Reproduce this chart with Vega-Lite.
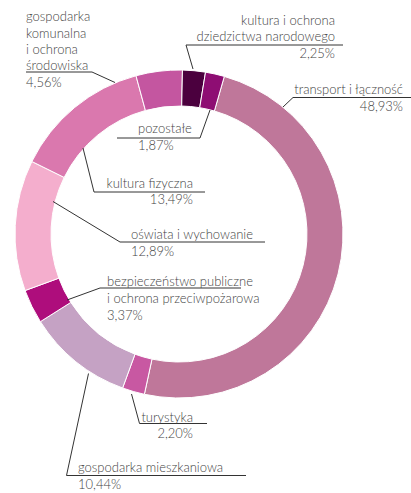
{
  "$schema": "https://vega.github.io/schema/vega-lite/v6.json",
  "width": 358,
  "height": 468,
  "autosize": {"type": "none"},
  "padding": {"left": 0, "top": 0, "right": 53, "bottom": 25},
  "background": "white",
  "config": {"view": {"stroke": null}},
  "datasets": {
    "segments": [
      {"category": "transport i łączność", "value": 48.93, "order": 1},
      {"category": "turystyka", "value": 2.20, "order": 2},
      {"category": "gospodarka mieszkaniowa", "value": 10.44, "order": 3},
      {"category": "bezpieczeństwo publiczne i ochrona przeciwpożarowa", "value": 3.37, "order": 4},
      {"category": "oświata i wychowanie", "value": 12.89, "order": 5},
      {"category": "kultura fizyczna", "value": 13.49, "order": 6},
      {"category": "gospodarka komunalna i ochrona środowiska", "value": 4.56, "order": 7},
      {"category": "kultura i ochrona dziedzictwa narodowego", "value": 2.25, "order": 8},
      {"category": "pozostałe", "value": 1.87, "order": 9}
    ],
    "labels": [
      {"text": "gospodarka", "x": 26, "y": 21, "align": "left"},
      {"text": "komunalna", "x": 26, "y": 37.5, "align": "left"},
      {"text": "i ochrona", "x": 26, "y": 53.5, "align": "left"},
      {"text": "środowiska", "x": 26, "y": 70, "align": "left"},
      {"text": "4,56%", "x": 26, "y": 86.5, "align": "left"},
      {"text": "kultura i ochrona", "x": 335, "y": 25, "align": "right"},
      {"text": "dziedzictwa narodowego", "x": 335, "y": 41, "align": "right"},
      {"text": "2,25%", "x": 335, "y": 57.5, "align": "right"},
      {"text": "transport i łączność", "x": 403, "y": 94, "align": "right"},
      {"text": "48,93%", "x": 403, "y": 110.5, "align": "right"},
      {"text": "pozostałe", "x": 138, "y": 133, "align": "left"},
      {"text": "1,87%", "x": 138, "y": 150, "align": "left"},
      {"text": "kultura fizyczna", "x": 193, "y": 188, "align": "right"},
      {"text": "13,49%", "x": 193, "y": 204, "align": "right"},
      {"text": "oświata i wychowanie", "x": 131, "y": 239, "align": "left"},
      {"text": "12,89%", "x": 131, "y": 256, "align": "left"},
      {"text": "bezpieczeństwo publiczne", "x": 107, "y": 286, "align": "left"},
      {"text": "i ochrona przeciwpożarowa", "x": 107, "y": 303, "align": "left"},
      {"text": "3,37%", "x": 107, "y": 319.5, "align": "left"},
      {"text": "turystyka", "x": 193, "y": 421.5, "align": "right"},
      {"text": "2,20%", "x": 193, "y": 438, "align": "right"},
      {"text": "gospodarka mieszkaniowa", "x": 78, "y": 472, "align": "left"},
      {"text": "10,44%", "x": 78, "y": 488.5, "align": "left"}
    ],
    "leaders": [
      {"id": "kom", "p": 1, "x": 26, "y": 72},
      {"id": "kom", "p": 2, "x": 92, "y": 72},
      {"id": "kom", "p": 3, "x": 115, "y": 82.5},
      {"id": "dzi", "p": 1, "x": 343, "y": 45},
      {"id": "dzi", "p": 2, "x": 186, "y": 45},
      {"id": "dzi", "p": 3, "x": 193, "y": 69},
      {"id": "tra", "p": 1, "x": 411, "y": 97.5},
      {"id": "tra", "p": 2, "x": 293, "y": 97.5},
      {"id": "tra", "p": 3, "x": 283, "y": 107},
      {"id": "poz", "p": 1, "x": 117, "y": 138},
      {"id": "poz", "p": 2, "x": 200, "y": 138},
      {"id": "poz", "p": 3, "x": 210, "y": 110},
      {"id": "fiz", "p": 1, "x": 205, "y": 192},
      {"id": "fiz", "p": 2, "x": 94, "y": 192},
      {"id": "fiz", "p": 3, "x": 83, "y": 148},
      {"id": "osw", "p": 1, "x": 265, "y": 242},
      {"id": "osw", "p": 2, "x": 120, "y": 242},
      {"id": "osw", "p": 3, "x": 53, "y": 201.5},
      {"id": "bez", "p": 1, "x": 241, "y": 288},
      {"id": "bez", "p": 2, "x": 100, "y": 288},
      {"id": "bez", "p": 3, "x": 67, "y": 300},
      {"id": "tur", "p": 1, "x": 207, "y": 423.5},
      {"id": "tur", "p": 2, "x": 139.5, "y": 423.5},
      {"id": "tur", "p": 3, "x": 131.5, "y": 394},
      {"id": "mie", "p": 1, "x": 246, "y": 475.5},
      {"id": "mie", "p": 2, "x": 66.5, "y": 475.5},
      {"id": "mie", "p": 3, "x": 88.5, "y": 373.5}
    ]
  },
  "layer": [
    {
      "data": {"name": "segments"},
      "mark": {"type": "arc", "innerRadius": 128, "outerRadius": 164, "stroke": "white", "strokeWidth": 1},
      "encoding": {
        "theta": {"field": "value", "type": "quantitative", "stack": true, "scale": {"range": [0.28, 6.5632]}},
        "order": {"field": "order", "type": "quantitative"},
        "color": {
          "field": "category", "type": "nominal", "legend": null,
          "scale": {
            "domain": ["transport i łączność", "turystyka", "gospodarka mieszkaniowa", "bezpieczeństwo publiczne i ochrona przeciwpożarowa", "oświata i wychowanie", "kultura fizyczna", "gospodarka komunalna i ochrona środowiska", "kultura i ochrona dziedzictwa narodowego", "pozostałe"],
            "range": ["#BF779A", "#C858A2", "#C5A2C4", "#AE0D7C", "#F4AECD", "#DA78AE", "#C456A0", "#4B003E", "#8E0D73"]
          }
        }
      }
    },
    {
      "data": {"name": "leaders"},
      "mark": {"type": "line", "color": "#333333", "strokeWidth": 1},
      "encoding": {
        "x": {"field": "x", "type": "quantitative", "axis": null, "scale": {"domain": [0, 358], "nice": false, "zero": false}},
        "y": {"field": "y", "type": "quantitative", "axis": null, "scale": {"domain": [0, 468], "nice": false, "zero": false, "reverse": true}},
        "detail": {"field": "id", "type": "nominal"},
        "order": {"field": "p", "type": "quantitative"}
      }
    },
    {
      "data": {"name": "labels"},
      "transform": [{"filter": "datum.align === 'left'"}],
      "mark": {"type": "text", "align": "left", "font": "Lato", "fontSize": 13, "fontWeight": 300, "color": "#444444", "baseline": "alphabetic"},
      "encoding": {
        "x": {"field": "x", "type": "quantitative", "axis": null, "scale": {"domain": [0, 358], "nice": false, "zero": false}},
        "y": {"field": "y", "type": "quantitative", "axis": null, "scale": {"domain": [0, 468], "nice": false, "zero": false, "reverse": true}},
        "text": {"field": "text", "type": "nominal"}
      }
    },
    {
      "data": {"name": "labels"},
      "transform": [{"filter": "datum.align === 'right'"}],
      "mark": {"type": "text", "align": "right", "font": "Lato", "fontSize": 13, "fontWeight": 300, "color": "#444444", "baseline": "alphabetic"},
      "encoding": {
        "x": {"field": "x", "type": "quantitative", "axis": null, "scale": {"domain": [0, 358], "nice": false, "zero": false}},
        "y": {"field": "y", "type": "quantitative", "axis": null, "scale": {"domain": [0, 468], "nice": false, "zero": false, "reverse": true}},
        "text": {"field": "text", "type": "nominal"}
      }
    }
  ]
}
